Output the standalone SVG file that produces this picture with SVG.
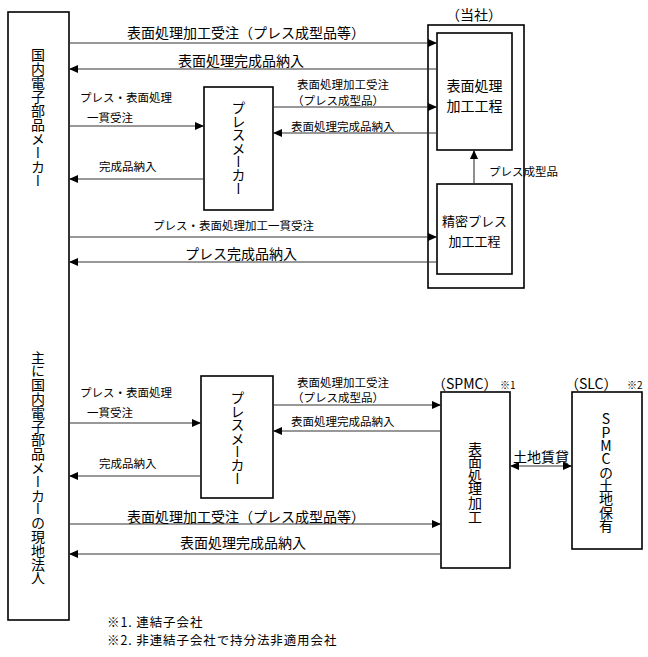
<svg xmlns="http://www.w3.org/2000/svg" width="648" height="657" viewBox="0 0 648 657">
<style>
.box{fill:#fff;stroke:#000;stroke-width:1.6}
.ln{fill:none;stroke:#333;stroke-width:1.1}
text{font-family:"Noto Sans CJK JP","Noto Sans CJK SC",sans-serif;fill:#000}
.b{font-size:14px}
.m{font-size:13px}
.s{font-size:11.5px}
.n{font-size:12.5px;letter-spacing:0.9px}
.v{font-size:14px;writing-mode:vertical-rl;text-orientation:upright;text-anchor:middle}
</style>
<defs>
<marker id="ah" viewBox="0 0 9 8" refX="9" refY="4" markerWidth="9" markerHeight="8" markerUnits="userSpaceOnUse" orient="auto-start-reverse">
<path d="M0,0 L9,4 L0,8 z" fill="#000"/>
</marker>
</defs>
<rect x="0" y="0" width="648" height="657" fill="#fff"/>

<g id="client">
<rect class="box" x="8" y="12" width="61" height="608"/>
<text class="v" x="38" y="117.5">国内電子部品メーカー</text>
<text class="v" x="38" y="467.5" style="letter-spacing:-0.2px">主に国内電子部品メーカーの現地法人</text>
</g>

<g id="company">
<rect class="box" x="428" y="25" width="96" height="263"/>
<text class="b" x="474" y="20" text-anchor="middle">（当社）</text>
</g>
<g id="surface">
<rect class="box" x="437" y="33" width="75" height="117"/>
<text class="b" x="474.5" y="90.5" text-anchor="middle">表面処理</text>
<text class="b" x="474.5" y="110.5" text-anchor="middle">加工工程</text>
</g>
<g id="press-process">
<rect class="box" x="437" y="184" width="75" height="90"/>
<text class="m" x="474.5" y="226" text-anchor="middle">精密プレス</text>
<text class="m" x="474.5" y="245.5" text-anchor="middle">加工工程</text>
</g>
<g id="pressmaker1">
<rect class="box" x="204" y="87" width="69" height="123"/>
<text class="v" x="238.5" y="148" style="letter-spacing:-0.6px">プレスメーカー</text>
</g>
<g id="pressmaker2">
<rect class="box" x="201" y="376" width="72" height="122"/>
<text class="v" x="237.5" y="438" style="letter-spacing:-0.6px">プレスメーカー</text>
</g>
<g id="spmc">
<rect class="box" x="441" y="392" width="69" height="176"/>
<text class="b" x="432" y="389">（SPMC）</text>
<text x="500" y="389" style="font-size:10px">※1</text>
<text class="v" x="475" y="482" style="letter-spacing:-0.4px">表面処理加工</text>
</g>
<g id="slc">
<rect class="box" x="572" y="392" width="70" height="157"/>
<text class="b" x="565" y="389">（SLC）</text>
<text x="627" y="389" style="font-size:10px">※2</text>
<text class="v" x="606" y="472" style="letter-spacing:-0.7px">SPMCの土地保有</text>
</g>

<g id="connectors">
<path class="ln" d="M69,43 H437" marker-end="url(#ah)"/>
<path class="ln" d="M437,69 H69" marker-end="url(#ah)"/>
<path class="ln" d="M69,126 H204" marker-end="url(#ah)"/>
<path class="ln" d="M204,179 H69" marker-end="url(#ah)"/>
<path class="ln" d="M273,107 H437" marker-end="url(#ah)"/>
<path class="ln" d="M437,133 H273" marker-end="url(#ah)"/>
<path class="ln" d="M474,184 V150" marker-end="url(#ah)"/>
<path class="ln" d="M69,237 H437" marker-end="url(#ah)"/>
<path class="ln" d="M437,262 H69" marker-end="url(#ah)"/>
<path class="ln" d="M69,423 H201" marker-end="url(#ah)"/>
<path class="ln" d="M201,476 H69" marker-end="url(#ah)"/>
<path class="ln" d="M273,405 H441" marker-end="url(#ah)"/>
<path class="ln" d="M441,431 H273" marker-end="url(#ah)"/>
<path class="ln" d="M69,524 H441" marker-end="url(#ah)"/>
<path class="ln" d="M441,554 H69" marker-end="url(#ah)"/>
<path class="ln" d="M510,466 H572" stroke-width="1.6" marker-start="url(#ah)" marker-end="url(#ah)"/>

<text class="b" x="127" y="38">表面処理加工受注（プレス成型品等）</text>
<text class="b" x="178" y="66">表面処理完成品納入</text>
<text class="s" x="80" y="102">プレス・表面処理</text>
<text class="s" x="87" y="121.5">一貫受注</text>
<text class="s" x="99" y="170.5">完成品納入</text>
<text class="s" x="297" y="89">表面処理加工受注</text>
<text class="s" x="292" y="104.5">（プレス成型品）</text>
<text class="s" x="291" y="130.5">表面処理完成品納入</text>
<text class="s" x="489" y="175.5">プレス成型品</text>
<text class="s" x="153" y="229.5">プレス・表面処理加工一貫受注</text>
<text class="b" x="185" y="259">プレス完成品納入</text>

<text class="s" x="80" y="396.5">プレス・表面処理</text>
<text class="s" x="87" y="416.5">一貫受注</text>
<text class="s" x="99" y="467.5">完成品納入</text>
<text class="s" x="297" y="386.5">表面処理加工受注</text>
<text class="s" x="292" y="401.5">（プレス成型品）</text>
<text class="s" x="291" y="425.5">表面処理完成品納入</text>
<text class="b" x="127" y="521.5">表面処理加工受注（プレス成型品等）</text>
<text class="b" x="180" y="548">表面処理完成品納入</text>
<text class="b" x="541" y="462" text-anchor="middle">土地賃貸</text>
</g>

<g id="notes">
<text class="n" x="107" y="627">※1. 連結子会社</text>
<text class="n" x="107" y="645">※2. 非連結子会社で持分法非適用会社</text>
</g>
</svg>
